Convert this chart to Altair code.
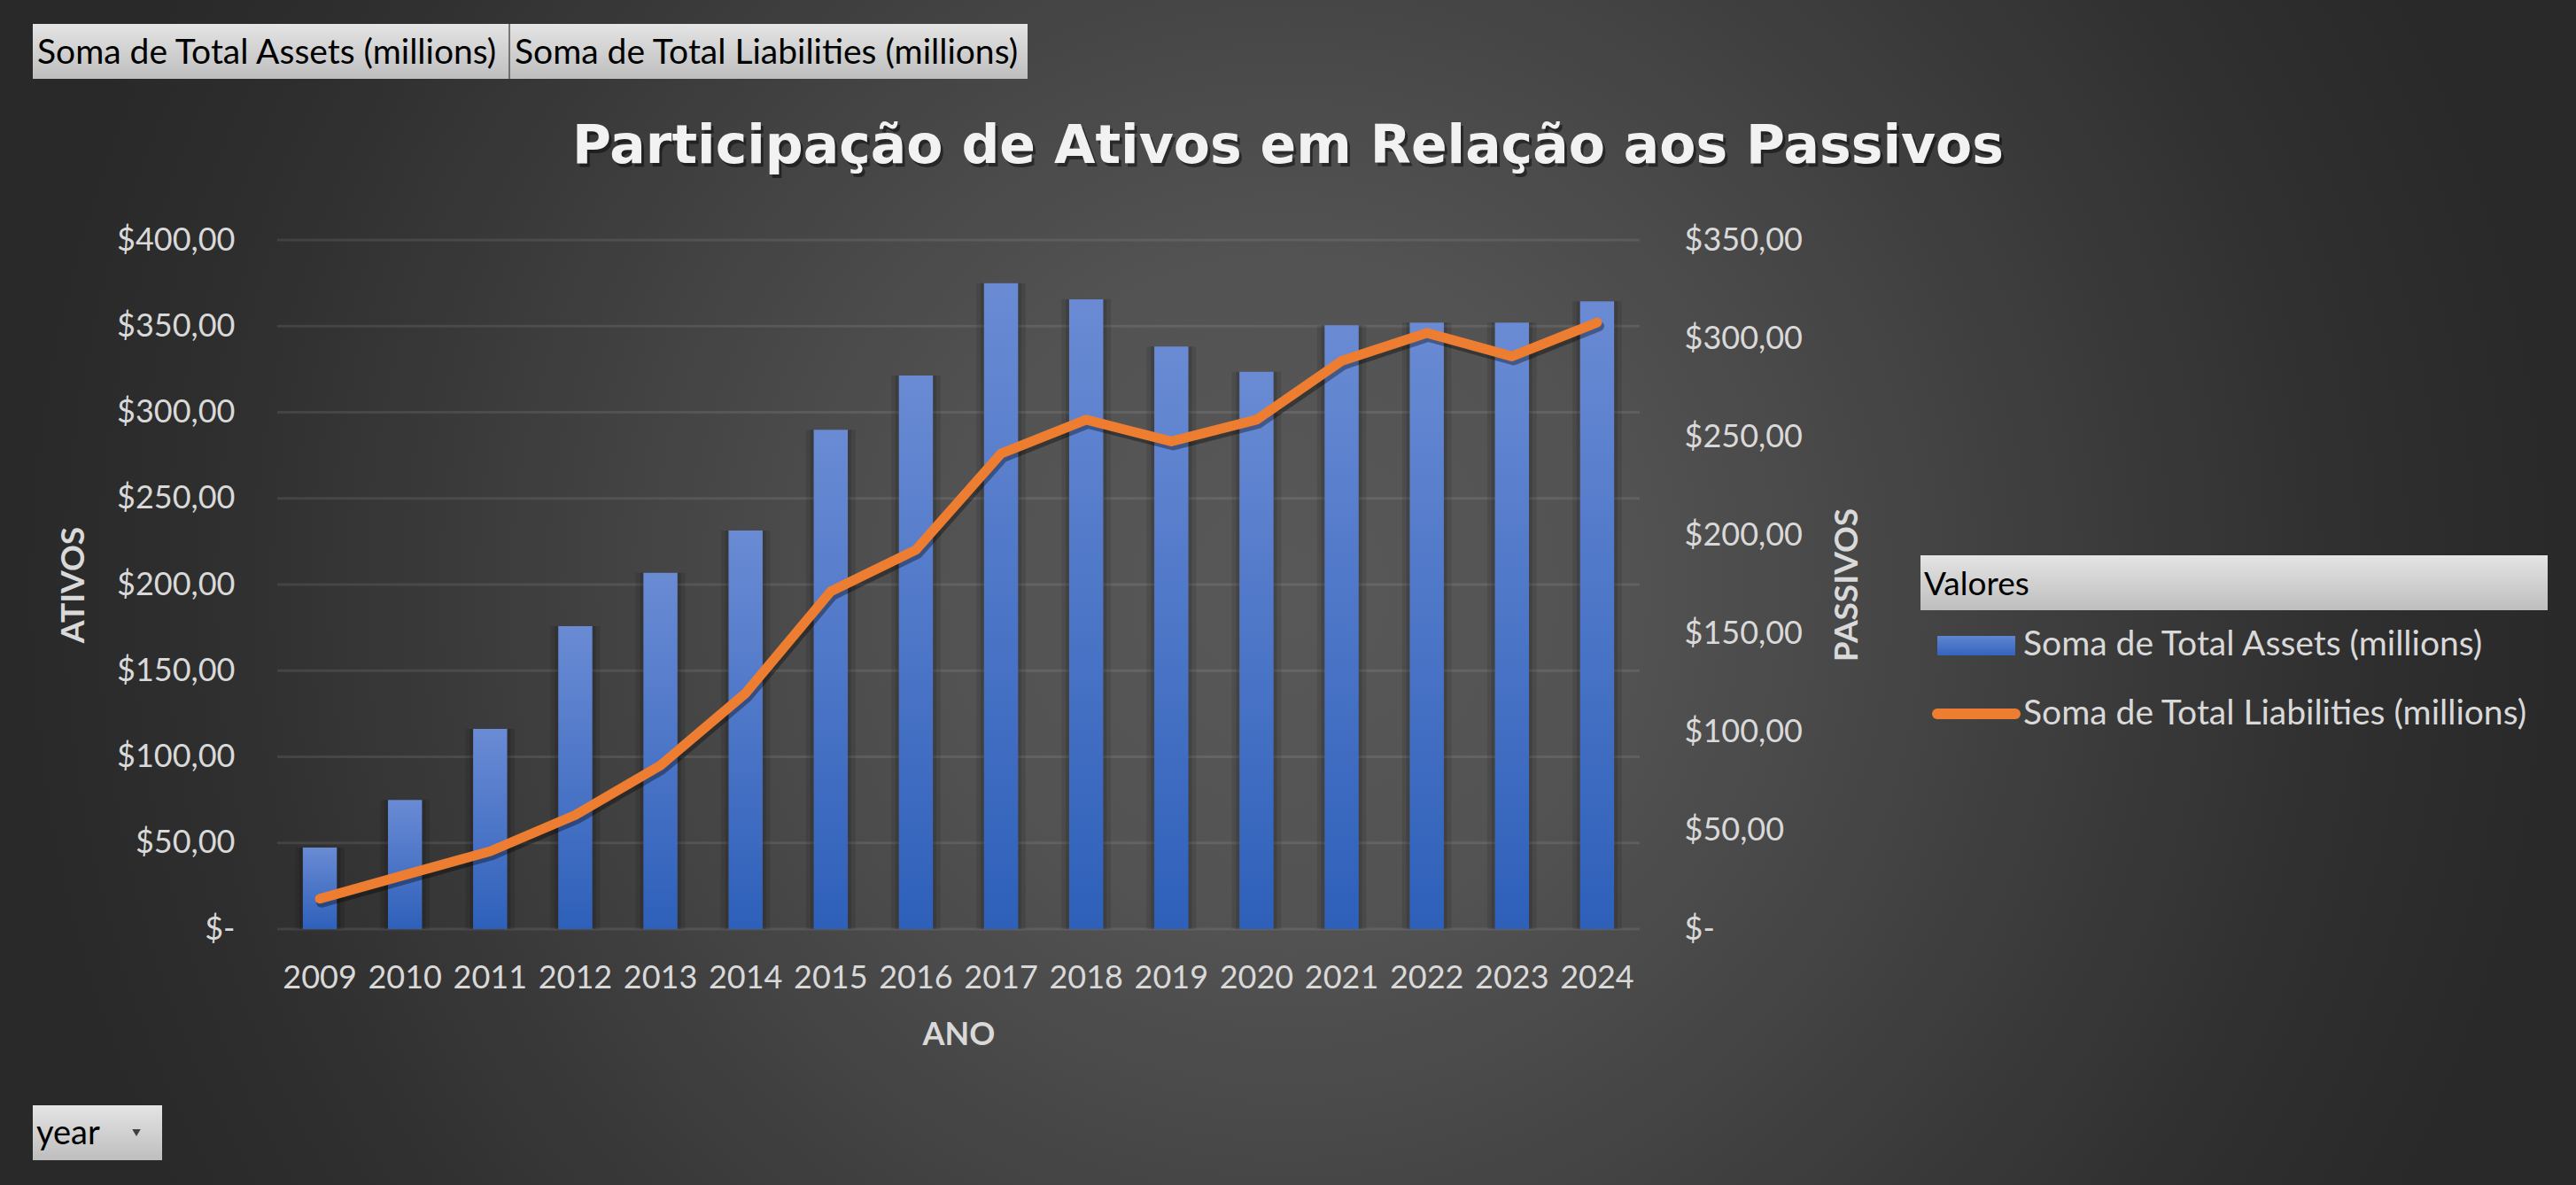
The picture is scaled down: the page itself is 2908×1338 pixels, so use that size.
import altair as alt
import pandas as pd

# ---------------- data ----------------
years = [str(y) for y in range(2009, 2025)]
assets = [47.3, 75.0, 116.2, 175.8, 206.8, 231.4, 289.9, 321.4,
          374.9, 365.5, 338.2, 323.5, 350.5, 352.1, 352.1, 364.4]
liabilities = [15.4, 27.5, 39.5, 57.9, 83.1, 119.8, 171.5, 192.6,
               241.5, 258.7, 247.7, 258.7, 288.6, 302.8, 290.9, 308.1]
left_ticks = [0, 50, 100, 150, 200, 250, 300, 350, 400]
right_ticks = [0, 50, 100, 150, 200, 250, 300, 350]
series_names = ["Soma de Total Assets (millions)", "Soma de Total Liabilities (millions)"]
title_text = "Participação de Ativos em Relação aos Passivos"
x_title = "ANO"
left_title = "ATIVOS"
right_title = "PASSIVOS"
legend_title = "Valores"
field_button = "year"

df = pd.DataFrame({"year": years, "assets": assets, "liab": liabilities})
grid_df = pd.DataFrame({"v": left_ticks})

# ---------------- layout ----------------
CW, CH = 2908, 1338
PL, PT = 313, 271
W, H = 1538, 778
PR, PB = CW - PL - W, CH - PT - H

LABEL = "#D9D9D9"
FONT = "Lato"


def one():
    return alt.InlineData(values=[{"k": 1}])


def lin(c1, c2):
    return {"gradient": "linear", "x1": 0, "y1": 0, "x2": 0, "y2": 1,
            "stops": [{"offset": 0, "color": c1}, {"offset": 1, "color": c2}]}


bar_grad = lin("#6A8BD4", "#2E60BA")
btn_grad = lin("#E4E4E4", "#BEBEBE")
bg_grad = {"gradient": "radial", "x1": 0.5, "y1": 0.5, "r1": 0,
           "x2": 0.5, "y2": 0.5, "r2": 0.5,
           "stops": [{"offset": 0.0, "color": "#585858"},
                     {"offset": 0.25, "color": "#535353"},
                     {"offset": 0.45, "color": "#474747"},
                     {"offset": 0.65, "color": "#3a3a3a"},
                     {"offset": 0.85, "color": "#2e2e2e"},
                     {"offset": 1.0, "color": "#292929"}]}


def rect(x, x2, y, y2, fill, **kw):
    return alt.Chart(one()).mark_rect(fill=fill, **kw).encode(
        x=alt.value(x), x2=alt.value(x2), y=alt.value(y), y2=alt.value(y2))


def text(txt, x, y, size, color, font=FONT, weight="normal", align="left",
         baseline="alphabetic", opacity=1.0):
    return alt.Chart(one()).mark_text(
        text=txt, font=font, fontSize=size, fontWeight=weight, color=color,
        align=align, baseline=baseline, opacity=opacity).encode(
        x=alt.value(x), y=alt.value(y))


# ---------------- encodings ----------------
x_enc = alt.X("year:O", sort=years,
              scale=alt.Scale(paddingInner=0.6, paddingOuter=0.3),
              axis=alt.Axis(title=x_title, labelFont=FONT, labelFontSize=36,
                            labelColor=LABEL, labelPadding=66,
                            labelBaseline="alphabetic", labelAngle=0,
                            ticks=False, tickSize=0, domain=False, grid=False,
                            titleFont=FONT, titleFontSize=36, titleFontWeight="bold",
                            titleColor=LABEL, titleX=W / 2, titleY=130,
                            titleBaseline="alphabetic", titleAlign="center",
                            zindex=1))

money_expr = "datum.value == 0 ? '$-' : '$' + replace(format(datum.value, '.2f'), '.', ',')"

left_axis = alt.Axis(values=left_ticks, labelExpr=money_expr, labelFont=FONT,
                     labelFontSize=36, labelColor=LABEL, labelPadding=48,
                     ticks=False, tickSize=0, domain=False, grid=False,
                     title=left_title, titleFont=FONT, titleFontSize=37,
                     titleFontWeight="bold", titleColor=LABEL,
                     titleX=-230, titleY=H / 2, titleAngle=270,
                     titleAlign="center", titleBaseline="middle", zindex=1)

right_axis = alt.Axis(orient="right", values=right_ticks, labelExpr=money_expr,
                      labelFont=FONT, labelFontSize=36, labelColor=LABEL,
                      labelPadding=50, ticks=False, tickSize=0, domain=False,
                      grid=False, title=right_title, titleFont=FONT,
                      titleFontSize=37, titleFontWeight="bold", titleColor=LABEL,
                      titleX=234, titleY=H / 2, titleAngle=270,
                      titleAlign="center", titleBaseline="middle", zindex=1)

y_left_scale = alt.Scale(domain=[0, 400], nice=False)
y_right_scale = alt.Scale(domain=[0, 350], nice=False)

# ---------------- layers ----------------
background = rect(-PL, CW - PL, -PT, CH - PT, bg_grad)

grid = alt.Chart(grid_df).mark_rule(color="#ffffff", opacity=0.09, strokeWidth=3).encode(
    y=alt.Y("v:Q", scale=y_left_scale, axis=None),
    x=alt.value(0), x2=alt.value(W))

bar_shadow1 = alt.Chart(df).mark_bar(color="#000000", opacity=0.10,
                                     width=alt.RelativeBandSize(band=1.45)).encode(
    x=x_enc, y=alt.Y("assets:Q", scale=y_left_scale, axis=None))
bar_shadow2 = alt.Chart(df).mark_bar(color="#000000", opacity=0.12,
                                     width=alt.RelativeBandSize(band=1.2)).encode(
    x=x_enc, y=alt.Y("assets:Q", scale=y_left_scale, axis=None))

bars = alt.Chart(df).mark_bar(fill=bar_grad).encode(
    x=x_enc, y=alt.Y("assets:Q", scale=y_left_scale, axis=left_axis))

line_shadow = alt.Chart(df).mark_line(color="#000000", opacity=0.35, strokeWidth=12,
                                      strokeCap="round", strokeJoin="round",
                                      xOffset=2, yOffset=4).encode(
    x=x_enc, y=alt.Y("liab:Q", scale=y_right_scale, axis=None))

line = alt.Chart(df).mark_line(color="#ED7D31", strokeWidth=11,
                               strokeCap="round", strokeJoin="round").encode(
    x=x_enc, y=alt.Y("liab:Q", scale=y_right_scale, axis=right_axis))

# top field buttons
btn1 = rect(-276, 262, -244, -182, btn_grad)
btn2 = rect(262, 847, -244, -182, btn_grad)
btn_sep = alt.Chart(one()).mark_rule(color="#555555", strokeWidth=1.5).encode(
    x=alt.value(262), y=alt.value(-244), y2=alt.value(-182))
btn1_t = text(series_names[0], -271, -199, 39, "#000000")
btn2_t = text(series_names[1], 268, -199, 39, "#000000")

# year button
ybtn = rect(-276, -130, 977, 1039, btn_grad)
ybtn_t = text(field_button, -272, 1021, 38, "#000000")
ybtn_arrow = alt.Chart(one()).mark_point(shape="triangle-down", filled=True,
                                         color="#404040", size=90, opacity=1).encode(
    x=alt.value(-159), y=alt.value(1008))

# legend
leg_head = rect(1855, 2563, 356, 418, btn_grad)
leg_head_t = text(legend_title, 1859, 401, 37, "#000000")
leg_sw1 = rect(1874, 1962, 447, 469, lin("#5F86D0", "#3563BE"))
leg_t1 = text(series_names[0], 1971, 469, 39, LABEL)
leg_sw2 = alt.Chart(one()).mark_rule(color="#ED7D31", strokeWidth=12,
                                     strokeCap="round").encode(
    x=alt.value(1874), x2=alt.value(1962), y=alt.value(535))
leg_t2 = text(series_names[1], 1971, 547, 39, LABEL)

# title
title_shadow = text(title_text, 1144, -83, 60, "#000000", font="DejaVu Sans",
                    weight="bold", align="center", opacity=0.45)
title = text(title_text, 1141, -87, 60, "#F2F2F2", font="DejaVu Sans",
             weight="bold", align="center")

chart = alt.layer(
    background, grid, btn1, btn2, btn_sep, btn1_t, btn2_t,
    ybtn, ybtn_t, ybtn_arrow,
    bar_shadow1, bar_shadow2, bars, line_shadow, line,
    leg_head, leg_head_t, leg_sw1, leg_t1, leg_sw2, leg_t2,
    title_shadow, title,
).resolve_scale(y="independent").resolve_axis(y="independent").properties(
    width=W, height=H,
    autosize=alt.AutoSizeParams(type="none"),
    padding={"left": PL, "top": PT, "right": PR, "bottom": PB},
).configure(background="#2a2a2a").configure_view(stroke=None)

chart.save("out.html", embed_options={"renderer": "svg", "actions": False})
